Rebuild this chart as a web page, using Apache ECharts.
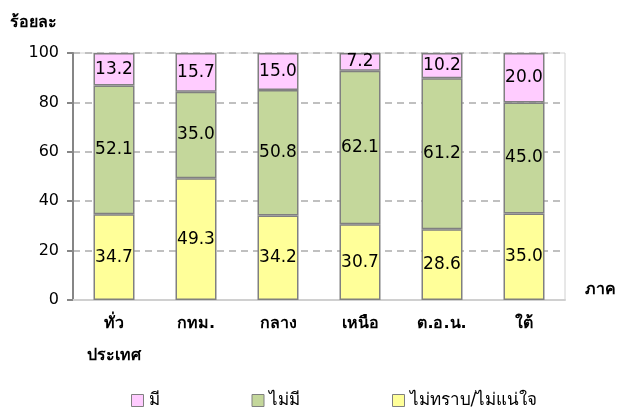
<!DOCTYPE html>
<html>
<head>
<meta charset="utf-8">
<script src="https://cdn.jsdelivr.net/npm/echarts@6/dist/echarts.min.js"></script>
<style>
  html, body { margin: 0; padding: 0; background: #fff; }
  #chart { width: 623px; height: 416px; }
</style>
</head>
<body>
<div id="chart"></div>
<script>
// ข้อมูลแยกตามภาค
var regions = ['ทั่ว\nประเทศ', 'กทม.', 'กลาง', 'เหนือ', 'ต.อ.น.', 'ใต้'];
var unsure = [34.7, 49.3, 34.2, 30.7, 28.6, 35.0];   // ไม่ทราบ/ไม่แน่ใจ
var none = [52.1, 35.0, 50.8, 62.1, 61.2, 45.0];     // ไม่มี
var have = [13.2, 15.7, 15.0, 7.2, 10.2, 20.0];      // มี
var yTicks = [0, 20, 40, 60, 80, 100];

var font = '"DejaVu Sans", Tahoma, "Noto Sans", sans-serif';

function barSeries(name, data, color) {
    return {
        name: name,
        type: 'bar',
        stack: 'all',
        barWidth: '50%',
        data: data,
        itemStyle: { color: color, borderColor: '#808080', borderWidth: 1.5 },
        label: {
            show: true,
            position: 'inside',
            color: '#000',
            fontSize: 17,
            fontFamily: font,
            formatter: function (p) { return p.value.toFixed(1); }
        }
    };
}

var myChart = echarts.init(document.getElementById('chart'));
var option = {
    animation: false,
    backgroundColor: '#fff',
    textStyle: { fontFamily: font },
    grid: {
        left: 73, right: 58, top: 53, bottom: 116,
        show: true, borderColor: '#d0d0d0', borderWidth: 1
    },
    legend: {
        bottom: 2,
        left: 126,
        itemGap: 92,
        itemWidth: 12,
        itemHeight: 12,
        textStyle: { fontSize: 17, color: '#000', fontFamily: font },
        data: [
            { name: 'มี', icon: 'rect', itemStyle: { borderColor: '#808080', borderWidth: 1 } },
            { name: 'ไม่มี', icon: 'rect', itemStyle: { borderColor: '#808080', borderWidth: 1 } },
            { name: 'ไม่ทราบ/ไม่แน่ใจ', icon: 'rect', itemStyle: { borderColor: '#808080', borderWidth: 1 } }
        ]
    },
    xAxis: {
        type: 'category',
        data: regions,
        name: 'ภาค',
        nameLocation: 'end',
        nameGap: 20,
        nameTextStyle: { fontSize: 16, fontWeight: 'bold', color: '#000', verticalAlign: 'bottom', padding: [0, 0, 2, 0] },
        axisLine: { lineStyle: { color: '#d0d0d0', width: 2 } },
        axisTick: { show: false },
        axisLabel: { color: '#000', fontSize: 16, fontWeight: 'bold', margin: 8, lineHeight: 32, verticalAlign: 'top' }
    },
    yAxis: {
        type: 'value',
        min: yTicks[0],
        max: yTicks[yTicks.length - 1],
        interval: yTicks[1] - yTicks[0],
        name: 'ร้อยละ',
        nameLocation: 'end',
        nameGap: 22,
        nameTextStyle: { fontSize: 16, fontWeight: 'bold', color: '#000', align: 'left', padding: [0, 0, 0, -63] },
        axisLine: { show: true, lineStyle: { color: '#868686', width: 2 } },
        axisTick: { show: true, length: 6, lineStyle: { color: '#868686', width: 2 } },
        axisLabel: { color: '#000', fontSize: 16, margin: 14 },
        splitLine: { lineStyle: { color: '#c0c0c0', type: [7, 5], width: 2 } }
    },
    series: [
        barSeries('ไม่ทราบ/ไม่แน่ใจ', unsure, '#ffff99'),
        barSeries('ไม่มี', none, '#c4d79b'),
        barSeries('มี', have, '#ffccff')
    ]
};
myChart.setOption(option);
</script>
</body>
</html>
